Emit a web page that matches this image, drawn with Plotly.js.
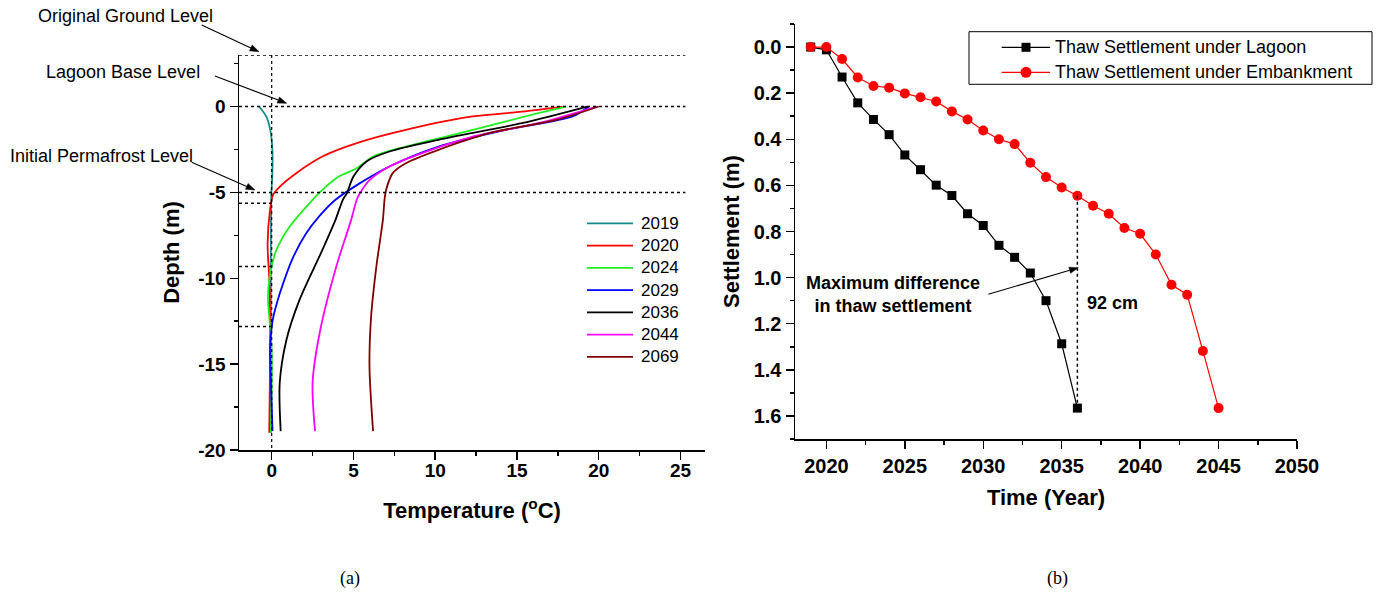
<!DOCTYPE html>
<html>
<head>
<meta charset="utf-8">
<script src="https://cdn.plot.ly/plotly-3.0.1.min.js"></script>
<style>html,body{margin:0;padding:0;background:#fff;}#chart{width:1398px;height:598px;}</style>
</head>
<body>
<div id="chart"></div>
<script>
// ---------- (a) temperature profiles ----------
const profileYears = ['2019','2020','2024','2029','2036','2044','2069'];
const t2019 = [-0.77,-0.32,-0.08,0.04,0.04,-0.02,-0.05,-0.05,-0.05,-0.05];
const d2019 = [0,-0.6,-1.4,-2.5,-3.9,-5,-8,-12,-16,-19];
const t2020 = [17.8,15.3,12.3,8.2,5.2,3.1,1.5,0.5,0.08,-0.1,-0.25,-0.15,-0.1,-0.1,-0.15];
const d2020 = [0,-0.3,-0.58,-1.36,-2.13,-2.91,-3.88,-4.66,-5.14,-6,-8,-10,-12,-15,-19];
const t2024 = [18.0,16.3,12.3,8.2,6.2,5.2,4.1,3.1,2.5,1.1,0.29,0,-0.23,-0.1,0,0,-0.05];
const d2024 = [0,-0.39,-1.36,-2.33,-2.91,-3.59,-4.08,-4.85,-5.43,-6.99,-8.35,-9.3,-11.07,-12.8,-14.2,-16.5,-19];
const t2029 = [19.4,18.4,14.3,10.2,7.2,5.4,3.9,2.9,2.1,1.3,0.7,0.3,0.05,-0.1,-0.05,0.05];
const d2029 = [0,-0.58,-1.36,-2.33,-3.49,-4.46,-5.43,-6.4,-7.4,-8.8,-10.3,-11.5,-12.5,-14,-16,-18.9];
const t2036 = [19.3,15.3,10.2,7.2,5.8,5.0,4.6,4.35,3.9,3.1,1.7,0.9,0.49,0.55];
const d2036 = [0,-0.97,-1.94,-2.62,-3.2,-4.08,-5.04,-5.43,-6.6,-8.35,-11.26,-13.59,-16.1,-18.9];
const t2044 = [19.9,16.3,12.3,9.2,7.2,6.0,5.4,5.2,4.86,3.95,2.93,2.5,2.65];
const d2044 = [0,-0.97,-1.75,-2.71,-3.49,-4.27,-5.04,-5.43,-6.6,-9.32,-13.2,-16.1,-18.9];
const t2069 = [20.0,17.4,13.3,10.2,8.2,7.4,7.0,6.9,6.8,6.4,6.08,5.98,6.2];
const d2069 = [0,-0.78,-1.55,-2.52,-3.3,-3.88,-4.85,-5.43,-6.6,-9.32,-12.23,-15.14,-18.9];
const depthTickVals = [-20,-15,-10,-5,0];
const depthTickText = ['-20','-15','-10','-5','0'];
const tempTickVals = [0,5,10,15,20,25];

// ---------- (b) settlement ----------
const seriesNames = ['Thaw Settlement under Lagoon','Thaw Settlement under Embankment'];
const lagoonYears = [2019,2020,2021,2022,2023,2024,2025,2026,2027,2028,2029,2030,2031,2032,2033,2034,2035,2036];
const lagoonSettle = [0,0.012,0.13,0.242,0.314,0.38,0.468,0.532,0.599,0.644,0.723,0.774,0.86,0.912,0.98,1.10,1.287,1.566];
const embYears = [2019,2020,2021,2022,2023,2024,2025,2026,2027,2028,2029,2030,2031,2032,2033,2034,2035,2036,2037,2038,2039,2040,2041,2042,2043,2044,2045];
const embSettle = [0,0,0.052,0.132,0.169,0.176,0.201,0.218,0.236,0.279,0.314,0.362,0.40,0.421,0.502,0.564,0.609,0.645,0.688,0.723,0.785,0.81,0.90,1.031,1.074,1.318,1.566];
const yearTickVals = [2020,2025,2030,2035,2040,2045,2050];

const F = 'Liberation Sans, Arial, Helvetica, sans-serif';
const profColors = ['#138b8b','#ff0000','#22ee22','#0000ff','#000000','#ff00ff','#800000'];
const temps = [t2019,t2020,t2024,t2029,t2036,t2044,t2069];
const depths = [d2019,d2020,d2024,d2029,d2036,d2044,d2069];

const traces = profileYears.map((yr,i)=>({
  type:'scatter', mode:'lines', x:temps[i], y:depths[i], name:yr, showlegend:false,
  line:{color:profColors[i], width:1.8, shape:'spline', smoothing:0.8},
  xaxis:'x', yaxis:'y'
}));
traces.push({
  type:'scatter', mode:'lines+markers', x:lagoonYears, y:lagoonSettle, showlegend:false,
  name:seriesNames[0], line:{color:'#000', width:1.2},
  marker:{symbol:'square', size:9, color:'#000'}, xaxis:'x2', yaxis:'y2'
});
traces.push({
  type:'scatter', mode:'lines+markers', x:embYears, y:embSettle, showlegend:false,
  name:seriesNames[1], line:{color:'#ff0000', width:1.2},
  marker:{symbol:'circle', size:10, color:'#ff0000'}, xaxis:'x2', yaxis:'y2'
});

const W=1398,H=598;
const px = v=>v/W, py = v=>1-v/H;
const axBase = {
  showline:true, linecolor:'#000', linewidth:1.5, ticks:'outside', ticklen:8, tickwidth:1.5, tickcolor:'#000',
  showgrid:false, zeroline:false
};
const dotted = {color:'#000', width:1.5, dash:'dot'};

// arrow helper in page pixels: tail (x0,y0) -> tip (x1,y1)
function arrow(x0,y0,x1,y1){
  const dx=x1-x0, dy=y1-y0, L=Math.hypot(dx,dy), ux=dx/L, uy=dy/L;
  const hl=9, hw=3.2;
  const bx=x1-ux*hl, by=y1-uy*hl;
  const p1=[bx-uy*hw, by+ux*hw], p2=[bx+uy*hw, by-ux*hw];
  return [
    {type:'line', xref:'paper', yref:'paper', x0:px(x0), y0:py(y0), x1:px(bx), y1:py(by), line:{color:'#000', width:1.1}},
    {type:'path', xref:'paper', yref:'paper', path:`M${px(x1)},${py(y1)} L${px(p1[0])},${py(p1[1])} L${px(p2[0])},${py(p2[1])} Z`, fillcolor:'#000', line:{color:'#000', width:0.5}}
  ];
}

const shapes = [
  {type:'line', xref:'x', yref:'y', x0:-2, x1:25.3, y0:3, y1:3, line:dotted},
  {type:'line', xref:'x', yref:'y', x0:-2, x1:25.3, y0:0, y1:0, line:dotted},
  {type:'line', xref:'x', yref:'y', x0:-2, x1:25.3, y0:-5, y1:-5, line:dotted},
  {type:'line', xref:'x', yref:'y', x0:-2, x1:0, y0:-5.63, y1:-5.63, line:dotted},
  {type:'line', xref:'x', yref:'y', x0:-2, x1:0, y0:-9.32, y1:-9.32, line:dotted},
  {type:'line', xref:'x', yref:'y', x0:-2, x1:0, y0:-12.81, y1:-12.81, line:dotted},
  {type:'line', xref:'x', yref:'y', x0:0, x1:0, y0:3, y1:-20, line:{color:'#000', width:1.2, dash:'dot'}},
  {type:'line', xref:'x2', yref:'y2', x0:2036, x1:2036, y0:0.645, y1:1.566, line:{color:'#000', width:1.5, dash:'dot'}}
].concat(
  arrow(201.7,25,259,51.7),
  arrow(215,76,286.7,103.3),
  arrow(191.7,162.3,255,190),
  arrow(988.3,294.3,1078.3,267.7)
);

const annotations = [
  {xref:'paper', yref:'paper', x:px(125.5), y:py(15.7), text:'Original Ground Level', showarrow:false, xanchor:'center', yanchor:'middle', font:{family:F, size:18}},
  {xref:'paper', yref:'paper', x:px(123.3), y:py(71.7), text:'Lagoon Base Level', showarrow:false, xanchor:'center', yanchor:'middle', font:{family:F, size:18}},
  {xref:'paper', yref:'paper', x:px(101.5), y:py(156), text:'Initial Permafrost Level', showarrow:false, xanchor:'center', yanchor:'middle', font:{family:F, size:18}},
  {xref:'x2', yref:'y2', x:2024.27, y:1.074, text:'Maximum difference<br>in thaw settlement', showarrow:false, xanchor:'center', yanchor:'middle', font:{family:F, size:18, weight:'bold'}},
  {xref:'x2', yref:'y2', x:2038.22, y:1.11, text:'92 cm', showarrow:false, xanchor:'center', yanchor:'middle', font:{family:F, size:18, weight:'bold'}},
  {xref:'paper', yref:'paper', x:px(350), y:py(578), text:'(a)', showarrow:false, xanchor:'center', yanchor:'middle', font:{family:'Liberation Serif, Times New Roman, serif', size:18}},
  {xref:'paper', yref:'paper', x:px(1057), y:py(578), text:'(b)', showarrow:false, xanchor:'center', yanchor:'middle', font:{family:'Liberation Serif, Times New Roman, serif', size:18}}
];

// legend (a): keys beside the profiles
profileYears.forEach((yr,i)=>{
  const yy = 223.3 + 22.25*i;
  shapes.push({type:'line', xref:'paper', yref:'paper', x0:px(587), x1:px(633), y0:py(yy), y1:py(yy), line:{color:profColors[i], width:1.8}});
  annotations.push({xref:'paper', yref:'paper', x:px(639), y:py(yy), text:yr, showarrow:false, xanchor:'left', yanchor:'middle', font:{family:F, size:17}});
});
// legend (b): boxed
shapes.push({type:'rect', xref:'paper', yref:'paper', x0:px(969), x1:px(1372), y0:py(31.7), y1:py(84.3), line:{color:'#000', width:1}, fillcolor:'#fff'});
const lgY = [47.3, 72.3], lgCol = ['#000','#ff0000'];
seriesNames.forEach((nm,i)=>{
  const yy = lgY[i];
  shapes.push({type:'line', xref:'paper', yref:'paper', x0:px(1001.7), x1:px(1050), y0:py(yy), y1:py(yy), line:{color:lgCol[i], width:1.2}});
  if(i===0){
    shapes.push({type:'rect', xref:'paper', yref:'paper', x0:px(1021.5), x1:px(1030.5), y0:py(yy-4.5), y1:py(yy+4.5), line:{width:0}, fillcolor:'#000'});
  } else {
    shapes.push({type:'circle', xref:'paper', yref:'paper', x0:px(1020.5), x1:px(1031.5), y0:py(yy-5.5), y1:py(yy+5.5), line:{width:0}, fillcolor:'#ff0000'});
  }
  annotations.push({xref:'paper', yref:'paper', x:px(1053), y:py(yy), text:nm, showarrow:false, xanchor:'left', yanchor:'middle', font:{family:F, size:18}});
});

const layout = {
  width:W, height:H, margin:{l:0,r:0,t:0,b:0}, paper_bgcolor:'#fff', plot_bgcolor:'#fff',
  font:{family:F, color:'#000'}, showlegend:false,
  xaxis:Object.assign({}, axBase, {domain:[px(239),px(705)], range:[-2,26.5], tickvals:tempTickVals, anchor:'y',
    tickfont:{family:F, size:19, weight:'bold', color:'#000'}, ticklabelstandoff:-5,
    minor:{dtick:2.5, tick0:0, ticks:'outside', ticklen:4, tickwidth:1.5, tickcolor:'#000'},
    title:{text:'Temperature (<sup>o</sup>C)', font:{family:F, size:22, weight:'bold'}, standoff:22}}),
  yaxis:Object.assign({}, axBase, {domain:[py(450),py(55)], range:[-20,3], tickvals:depthTickVals, ticktext:depthTickText, anchor:'x',
    tickfont:{family:F, size:19, weight:'bold', color:'#000'},
    minor:{dtick:2.5, tick0:0, ticks:'outside', ticklen:4, tickwidth:1.5, tickcolor:'#000'},
    title:{text:'Depth (m)', font:{family:F, size:22, weight:'bold'}, standoff:12}}),
  xaxis2:Object.assign({}, axBase, {domain:[px(795),px(1297)], range:[2018,2050], tickvals:yearTickVals, anchor:'y2',
    tickfont:{family:F, size:20, weight:'bold', color:'#000'},
    minor:{dtick:2.5, tick0:2020, ticks:'outside', ticklen:4, tickwidth:1.5, tickcolor:'#000'},
    title:{text:'Time (Year)', font:{family:F, size:22, weight:'bold'}, standoff:14}}),
  yaxis2:Object.assign({}, axBase, {domain:[py(439),py(24)], range:[1.7,-0.1], dtick:0.2, tick0:0, tickformat:'.1f', anchor:'x2',
    tickfont:{family:F, size:20, weight:'bold', color:'#000'},
    minor:{dtick:0.1, tick0:0, ticks:'outside', ticklen:4, tickwidth:1.5, tickcolor:'#000'},
    title:{text:'Settlement (m)', font:{family:F, size:22, weight:'bold'}, standoff:8}}),
  shapes:shapes,
  annotations:annotations
};
Plotly.newPlot('chart', traces, layout, {displayModeBar:false, staticPlot:true});
</script>
</body>
</html>
